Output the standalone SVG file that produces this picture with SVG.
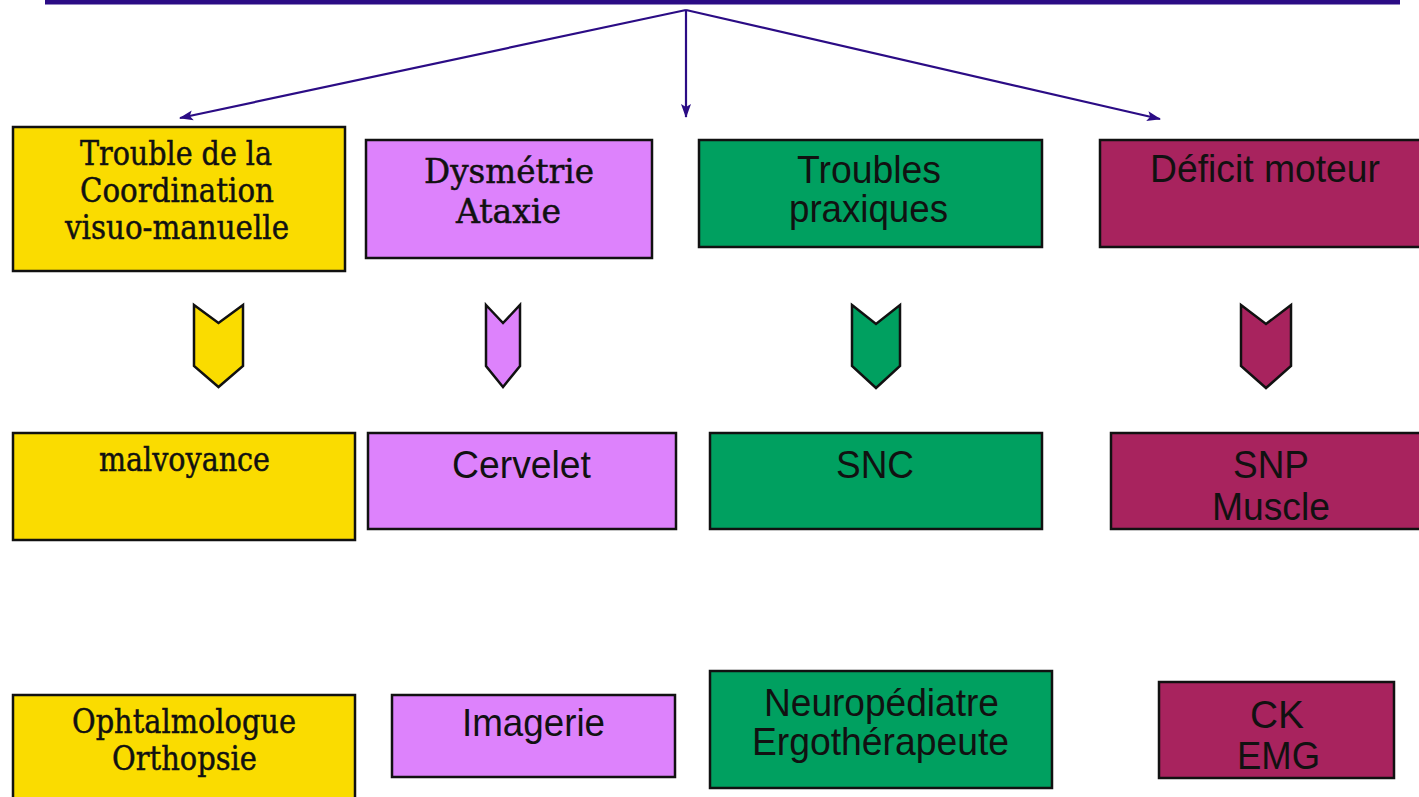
<svg xmlns="http://www.w3.org/2000/svg" width="1419" height="797" viewBox="0 0 1419 797">
<style>
.box{stroke:#111;stroke-width:2.5}
.y{fill:#FADC00}.p{fill:#DD82FC}.g{fill:#00A060}.m{fill:#A8235E}
.chev{stroke:#111;stroke-width:2.5;stroke-linejoin:miter}
.serif{font-family:"DejaVu Serif","Liberation Serif",serif;font-size:34px;fill:#111;text-anchor:start;stroke:#111;stroke-width:0.5}
.sans{font-family:"Liberation Sans",Arial,sans-serif;font-size:39px;fill:#111;text-anchor:start}
.conn{stroke:#2B0C85;stroke-width:2.2;fill:none}
</style>
<defs>
<marker id="ah" viewBox="0 0 14 12" refX="13" refY="6" markerWidth="14" markerHeight="12" orient="auto" markerUnits="userSpaceOnUse">
<path d="M0,1 L14,6 L0,11 L3,6 Z" fill="#2B0C85"/>
</marker>
</defs>
<rect x="45" y="0" width="1355" height="4.5" fill="#2B0C85"/>
<g id="connectors">
<line class="conn" x1="686" y1="10" x2="180" y2="118" marker-end="url(#ah)"/>
<line class="conn" x1="686" y1="10" x2="686" y2="117" marker-end="url(#ah)"/>
<line class="conn" x1="686" y1="10" x2="1160" y2="119" marker-end="url(#ah)"/>
</g>
<g id="n-trouble-coord">
<rect class="box y" x="13" y="127" width="332" height="144"/>
<text class="serif" x="80" y="165" textLength="192" lengthAdjust="spacingAndGlyphs">Trouble de la</text>
<text class="serif" x="80" y="202" textLength="194" lengthAdjust="spacingAndGlyphs">Coordination</text>
<text class="serif" x="65" y="239" textLength="224" lengthAdjust="spacingAndGlyphs">visuo-manuelle</text>
</g>
<g id="n-dysmetrie">
<rect class="box p" x="366" y="140" width="286" height="118"/>
<text class="serif" x="424" y="183" textLength="170" lengthAdjust="spacingAndGlyphs">Dysmétrie</text>
<text class="serif" x="456" y="223" textLength="105" lengthAdjust="spacingAndGlyphs">Ataxie</text>
</g>
<g id="n-troubles-praxiques">
<rect class="box g" x="699" y="140" width="343" height="107"/>
<text class="sans" x="797" y="183" textLength="144" lengthAdjust="spacingAndGlyphs">Troubles</text>
<text class="sans" x="789" y="222" textLength="159" lengthAdjust="spacingAndGlyphs">praxiques</text>
</g>
<g id="n-deficit-moteur">
<rect class="box m" x="1100" y="140" width="325" height="107"/>
<text class="sans" x="1150" y="182" textLength="230" lengthAdjust="spacingAndGlyphs">Déficit moteur</text>
</g>
<g id="chevrons">
<polygon class="chev y" points="194,305 218.5,323 243,305 243,366 218.5,387 194,366"/>
<polygon class="chev p" points="486,305 503,323 520,305 520,366 503,387 486,366"/>
<polygon class="chev g" points="852,305 876,324 900,305 900,366 876,388 852,366"/>
<polygon class="chev m" points="1241,305 1266,324 1291,305 1291,366 1266,388 1241,366"/>
</g>
<g id="n-malvoyance">
<rect class="box y" x="13" y="433" width="342" height="107"/>
<text class="serif" x="99" y="471" textLength="171" lengthAdjust="spacingAndGlyphs">malvoyance</text>
</g>
<g id="n-cervelet">
<rect class="box p" x="368" y="433" width="308" height="96"/>
<text class="sans" x="452" y="478" textLength="139" lengthAdjust="spacingAndGlyphs">Cervelet</text>
</g>
<g id="n-snc">
<rect class="box g" x="710" y="433" width="332" height="96"/>
<text class="sans" x="836" y="478" textLength="78" lengthAdjust="spacingAndGlyphs">SNC</text>
</g>
<g id="n-snp">
<rect class="box m" x="1111" y="433" width="314" height="96"/>
<text class="sans" x="1233" y="478" textLength="76" lengthAdjust="spacingAndGlyphs">SNP</text>
<text class="sans" x="1212" y="520" textLength="118" lengthAdjust="spacingAndGlyphs">Muscle</text>
</g>
<g id="n-ophtalmologue">
<rect class="box y" x="13" y="695" width="342" height="110"/>
<text class="serif" x="72" y="733" textLength="224" lengthAdjust="spacingAndGlyphs">Ophtalmologue</text>
<text class="serif" x="112" y="770" textLength="145" lengthAdjust="spacingAndGlyphs">Orthopsie</text>
</g>
<g id="n-imagerie">
<rect class="box p" x="392" y="695" width="283" height="82"/>
<text class="sans" x="462" y="736" textLength="143" lengthAdjust="spacingAndGlyphs">Imagerie</text>
</g>
<g id="n-neuropediatre">
<rect class="box g" x="710" y="671" width="342" height="117"/>
<text class="sans" x="764" y="716" textLength="235" lengthAdjust="spacingAndGlyphs">Neuropédiatre</text>
<text class="sans" x="752" y="755" textLength="257" lengthAdjust="spacingAndGlyphs">Ergothérapeute</text>
</g>
<g id="n-ck-emg">
<rect class="box m" x="1159" y="682" width="235" height="96"/>
<text class="sans" x="1250" y="728" textLength="54" lengthAdjust="spacingAndGlyphs">CK</text>
<text class="sans" x="1237" y="769" textLength="83" lengthAdjust="spacingAndGlyphs">EMG</text>
</g>
</svg>
